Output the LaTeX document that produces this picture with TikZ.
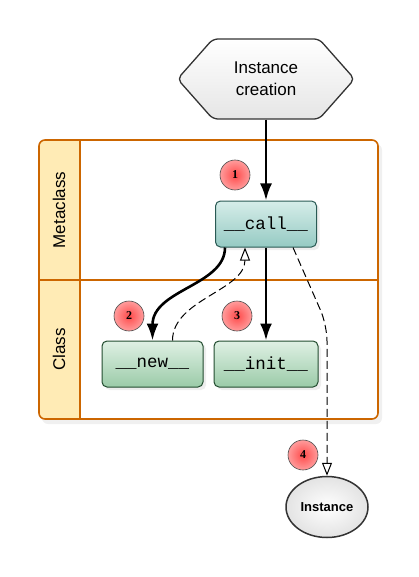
\documentclass[tikz,border=0pt]{standalone}
\usepackage{fontspec}
\setmainfont{Liberation Sans}
\setmonofont{Liberation Mono}
\newfontfamily\numfont{Liberation Serif}
\usepackage{tikz}
\usetikzlibrary{arrows.meta,positioning,calc,shapes.symbols,shapes.geometric,shadows}

\definecolor{laneline}{HTML}{CC6600}
\definecolor{lanehead}{HTML}{FFEBB5}
\definecolor{calltop}{HTML}{D6EDE9}
\definecolor{callbot}{HTML}{95CAC3}
\definecolor{callline}{HTML}{2A5A54}
\definecolor{clstop}{HTML}{DFF0E4}
\definecolor{clsbot}{HTML}{9BCBA8}
\definecolor{clsline}{HTML}{224C2F}
\definecolor{edgegray}{HTML}{333333}
\definecolor{badgein}{HTML}{FF4A4A}
\definecolor{badgeout}{HTML}{FF9C9C}

\begin{document}
\begin{tikzpicture}[x=1pt,y=-1pt,
  method/.style={rectangle,rounded corners=5pt,line width=1pt,minimum width=101pt,minimum height=46pt,
    inner sep=0pt,font=\fontsize{17.5}{20}\ttfamily,
    drop shadow={opacity=0.13,shadow xshift=3pt,shadow yshift=-3pt}},
  callbox/.style={method,draw=callline,top color=calltop,bottom color=callbot},
  clsbox/.style={method,draw=clsline,top color=clstop,bottom color=clsbot},
  badge/.style={circle,minimum size=30pt,inner sep=0pt,draw=gray!60!black,line width=0.6pt,
    inner color=badgein,outer color=badgeout,font=\numfont\bfseries\fontsize{12}{14}\selectfont},
  flow/.style={line width=2.6pt,-{Latex[length=17pt,width=12pt]}},
  back/.style={line width=1pt,dash pattern=on 8pt off 4pt,-{Triangle[fill=white,length=13pt,width=10pt]}}]
  \useasboundingbox (0,0) rectangle (418,577);

  % swimlanes
  \fill[black,opacity=0.06,rounded corners=6pt] (42,144) rectangle (382,424);
  \begin{scope}
    \clip[rounded corners=6pt] (39,140) rectangle (378,419);
    \fill[white] (39,140) rectangle (378,419);
    \fill[lanehead] (39,140) rectangle (80,419);
  \end{scope}
  \draw[laneline,line width=1.6pt,rounded corners=6pt] (39,140) rectangle (378,419);
  \draw[laneline,line width=1.6pt] (80,140) -- (80,419) (39,280) -- (378,280);
  \node[rotate=90,font=\fontsize{17}{20}\selectfont] (metaname) at (59,210) {Metaclass};
  \node[rotate=90,font=\fontsize{17}{20}\selectfont] (clsname) at (59,349.5) {Class};

  \node[signal,signal to=west and east,signal pointer angle=97,minimum width=177pt,minimum height=80pt,
    inner sep=0pt,draw=edgegray,line width=1.3pt,rounded corners=5pt,top color=white,bottom color=gray!20,
    align=center,font=\fontsize{17}{22}\selectfont] (create) at (266,79) {Instance\\creation};
  \node[callbox] (call) at (266,224) {\_\_call\_\_};
  \node[clsbox] (new) at (152.5,364) {\_\_new\_\_};
  \node[clsbox,minimum width=104pt] (init) at (266,364) {\_\_init\_\_};
  \node[ellipse,minimum width=82pt,minimum height=61pt,inner sep=0pt,draw=edgegray,line width=1.5pt,
    inner color=white,outer color=gray!22,font=\bfseries\fontsize{13}{15}\selectfont] (inst) at (327,507) {Instance};

  \node[badge] (n1) at (235,175) {1};
  \node[badge] (n2) at (129,316) {2};
  \node[badge] (n3) at (237,316) {3};
  \node[badge] (n4) at (303,455) {4};

  \draw[flow] (create.south) -- (call.north);
  \draw[flow] (call.south) -- (init.north);
  \draw[flow] ([xshift=10pt]call.south west) .. controls +(0,38) and +(0,-51) .. (new.north);
  \draw[back] ([xshift=20pt]new.north) .. controls +(0,-41) and +(0,43) .. ([xshift=-21pt]call.south);
  \coordinate (bend) at (327,325);
  \draw[back,rounded corners=16pt] ([xshift=27pt]call.south) -- (bend) -- (inst.north);
\end{tikzpicture}
\end{document}
